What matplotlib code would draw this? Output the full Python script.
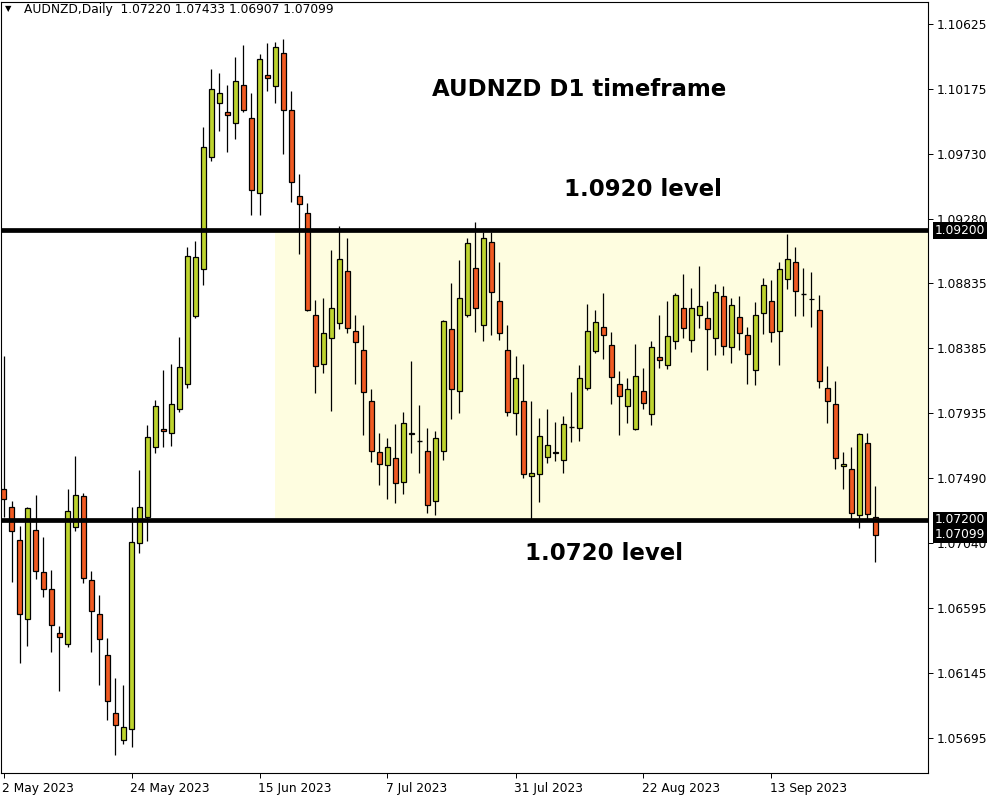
import matplotlib
matplotlib.use("Agg")
import matplotlib.pyplot as plt
import matplotlib.transforms as mtransforms
from matplotlib.patches import Rectangle

symbol = "AUDNZD"
timeframe = "Daily"

opens = [1.07412, 1.07288, 1.07059, 1.06513, 1.07129, 1.06838, 1.06721, 1.06423, 1.06347, 1.07149,
         1.07364, 1.06783, 1.06548, 1.06271, 1.05870, 1.05683, 1.05759, 1.07039, 1.07218, 1.07702,
         1.07827, 1.07799, 1.07965, 1.08142, 1.08605, 1.08930, 1.09709, 1.10078, 1.10016, 1.09940,
         1.10203, 1.09974, 1.09456, 1.10272, 1.10196, 1.10424, 1.10030, 1.09435, 1.09318, 1.08612,
         1.08280, 1.08453, 1.08557, 1.08916, 1.08508, 1.08370, 1.08024, 1.07672, 1.07582, 1.07630,
         1.07464, 1.07797, 1.07748, 1.07679, 1.07333, 1.07679, 1.08515, 1.08087, 1.08612, 1.08937,
         1.08543, 1.09117, 1.08709, 1.08370, 1.07935, 1.08018, 1.07502, 1.07516, 1.07633, 1.07668,
         1.07617, 1.07841, 1.07834, 1.08110, 1.08366, 1.08532, 1.08408, 1.08138, 1.07986, 1.07827,
         1.08090, 1.07931, 1.08325, 1.08270, 1.08435, 1.08664, 1.08442, 1.08615, 1.08591, 1.08453,
         1.08744, 1.08391, 1.08598, 1.08474, 1.08232, 1.08626, 1.08709, 1.08502, 1.08861, 1.08979,
         1.08757, 1.08727, 1.08647, 1.08114, 1.08004, 1.07575, 1.07554, 1.07236, 1.07734, 1.07220]
highs = [1.08334, 1.07329, 1.07159, 1.07292, 1.07373, 1.07082, 1.06854, 1.06467, 1.07414, 1.07643,
         1.07384, 1.06847, 1.06681, 1.06384, 1.06107, 1.06059, 1.07290, 1.07546, 1.07855, 1.08030,
         1.08237, 1.08279, 1.08461, 1.09085, 1.09126, 1.09915, 1.10316, 1.10288, 1.10205, 1.10399,
         1.10482, 1.10147, 1.10419, 1.10493, 1.10500, 1.10521, 1.10161, 1.09587, 1.09387, 1.08716,
         1.08730, 1.09062, 1.09228, 1.09145, 1.08615, 1.08545, 1.08103, 1.07799, 1.07769, 1.07865,
         1.07944, 1.08296, 1.07992, 1.07838, 1.07812, 1.08580, 1.08833, 1.08993, 1.09145, 1.09255,
         1.09191, 1.09191, 1.08979, 1.08543, 1.08329, 1.08280, 1.08023, 1.07903, 1.07965, 1.07875,
         1.07919, 1.08083, 1.08270, 1.08694, 1.08650, 1.08770, 1.08498, 1.08228, 1.08182, 1.08415,
         1.08251, 1.08435, 1.08615, 1.08712, 1.08767, 1.08899, 1.08802, 1.08956, 1.08711, 1.08827,
         1.08813, 1.08730, 1.08744, 1.08529, 1.08702, 1.08868, 1.08854, 1.08979, 1.09175, 1.09082,
         1.08937, 1.08910, 1.08751, 1.08266, 1.08156, 1.07672, 1.07706, 1.07803, 1.07803, 1.07433]
lows = [1.07223, 1.06774, 1.06213, 1.06331, 1.06790, 1.06670, 1.06290, 1.06020, 1.06324, 1.07126,
        1.06762, 1.06290, 1.06061, 1.05819, 1.05580, 1.05656, 1.05633, 1.06974, 1.07057, 1.07661,
        1.07707, 1.07714, 1.07942, 1.08112, 1.08595, 1.08822, 1.09675, 1.09882, 1.09737, 1.09827,
        1.10014, 1.09308, 1.09308, 1.10159, 1.10076, 1.09730, 1.09396, 1.09039, 1.08640, 1.08077,
        1.08216, 1.07955, 1.08515, 1.08488, 1.08140, 1.07787, 1.07600, 1.07441, 1.07344, 1.07317,
        1.07379, 1.07663, 1.07524, 1.07248, 1.07234, 1.07616, 1.07898, 1.07941, 1.08600, 1.08499,
        1.08437, 1.08479, 1.08444, 1.07921, 1.07789, 1.07492, 1.07210, 1.07327, 1.07596, 1.07610,
        1.07527, 1.07735, 1.07742, 1.08094, 1.08350, 1.08309, 1.07998, 1.07790, 1.07866, 1.07820,
        1.07963, 1.07855, 1.08246, 1.08242, 1.08382, 1.08456, 1.08357, 1.08523, 1.08237, 1.08340,
        1.08340, 1.08285, 1.08375, 1.08140, 1.08133, 1.08485, 1.08430, 1.08271, 1.08797, 1.08610,
        1.08610, 1.08534, 1.08114, 1.07872, 1.07554, 1.07416, 1.07208, 1.07146, 1.07208, 1.06907]
closes = [1.07343, 1.07122, 1.06548, 1.07281, 1.06845, 1.06721, 1.06472, 1.06389, 1.07260, 1.07371,
          1.06797, 1.06568, 1.06375, 1.05953, 1.05787, 1.05773, 1.07046, 1.07288, 1.07772, 1.07986,
          1.07813, 1.08000, 1.08256, 1.09020, 1.09013, 1.09774, 1.10175, 1.10147, 1.09995, 1.10230,
          1.10030, 1.09477, 1.10382, 1.10251, 1.10465, 1.10030, 1.09532, 1.09380, 1.08647, 1.08266,
          1.08488, 1.08661, 1.08999, 1.08522, 1.08426, 1.08080, 1.07679, 1.07589, 1.07706, 1.07457,
          1.07872, 1.07791, 1.07748, 1.07305, 1.07769, 1.08571, 1.08107, 1.08730, 1.09110, 1.08661,
          1.09145, 1.08771, 1.08488, 1.07948, 1.08177, 1.07520, 1.07523, 1.07779, 1.07716, 1.07664,
          1.07862, 1.07841, 1.08180, 1.08505, 1.08567, 1.08477, 1.08187, 1.08055, 1.08104, 1.08193,
          1.08007, 1.08394, 1.08304, 1.08470, 1.08754, 1.08525, 1.08664, 1.08678, 1.08515, 1.08771,
          1.08398, 1.08681, 1.08488, 1.08349, 1.08612, 1.08820, 1.08495, 1.08930, 1.08999, 1.08778,
          1.08757, 1.08723, 1.08156, 1.08024, 1.07630, 1.07589, 1.07250, 1.07796, 1.07243, 1.07099]

date_tick_bars = [0, 16, 32, 48, 64, 80, 96]
date_tick_labels = ["2 May 2023", "24 May 2023", "15 Jun 2023", "7 Jul 2023",
                    "31 Jul 2023", "22 Aug 2023", "13 Sep 2023"]
price_ticks = [1.10625, 1.10175, 1.09730, 1.09280, 1.08835, 1.08385,
               1.07935, 1.07490, 1.07040, 1.06595, 1.06145, 1.05695]
upper_level = 1.0920
lower_level = 1.0720
zone_start_bar = 33.9
title_text = "AUDNZD D1 timeframe"
upper_text = "1.0920 level"
lower_text = "1.0720 level"

BULL = "#BED42E"
BEAR = "#F05A22"
ZONE = "#FEFDE0"
FS = 8.8

W, H = 1000, 800
fig = plt.figure(figsize=(10, 8), dpi=100)
fig.patch.set_facecolor("white")
pl, pr, pt, pb = 1, 928, 2, 773
ax = fig.add_axes([pl / W, 1 - pb / H, (pr - pl) / W, (pb - pt) / H])

ax.set_xlim(-0.3125, 115.5625)
ax.set_ylim(1.05453, 1.10776)

# zone
x_right = ax.get_xlim()[1]
ax.add_patch(Rectangle((zone_start_bar, lower_level), x_right - zone_start_bar,
                       upper_level - lower_level, facecolor=ZONE, edgecolor="none", zorder=0))

bw = 0.56
for i, (o, h, l, c) in enumerate(zip(opens, highs, lows, closes)):
    ax.vlines(i, l, h, color="black", lw=0.9, zorder=2)
    if abs(c - o) < 0.00003:
        ax.hlines(o, i - bw / 2, i + bw / 2, color="black", lw=1.0, zorder=3)
    else:
        col = BULL if c > o else BEAR
        ax.add_patch(Rectangle((i - bw / 2, min(o, c)), bw, abs(c - o),
                               facecolor=col, edgecolor="black", lw=0.9, zorder=3))

ax.axhline(upper_level, color="black", lw=3.4, zorder=4)
ax.axhline(lower_level, color="black", lw=3.4, zorder=4)

# axes styling
for s in ax.spines.values():
    s.set_color("black")
    s.set_linewidth(0.8)
ax.yaxis.tick_right()
ax.set_yticks(price_ticks)
ax.set_yticklabels([f"{v:.5f}" for v in price_ticks])
ax.tick_params(axis="y", direction="out", length=3.5, width=0.7, labelsize=FS, pad=3,
               colors="black")
ax.set_xticks(date_tick_bars)
ax.set_xticklabels(date_tick_labels)
ax.tick_params(axis="x", direction="out", length=3.5, width=0.7, labelsize=FS, pad=3,
               colors="black")
for lab in ax.get_xticklabels():
    lab.set_horizontalalignment("left")
    lab.set_transform(lab.get_transform() + mtransforms.ScaledTranslation(-1 / 72, 0, fig.dpi_scale_trans))

# price boxes on the right axis (they cover nearby tick labels, as in the reference)
trans = mtransforms.blended_transform_factory(ax.transAxes, ax.transData)
for val in [upper_level, lower_level, closes[-1]]:
    ax.annotate(f"{val:.5f}", xy=(1.0, val), xycoords=trans, xytext=(5, 0),
                textcoords="offset points", ha="left", va="center", fontsize=FS,
                color="white", annotation_clip=False, zorder=10,
                bbox=dict(boxstyle="square,pad=0.15", fc="black", ec="none"))

# header
fig.text(5 / W, 1 - 9 / H, "\u25bc", fontsize=6, va="center", ha="left", color="black")
fig.text(24 / W, 1 - 9 / H,
         f"{symbol},{timeframe}  {opens[-1]:.5f} {highs[-1]:.5f} {lows[-1]:.5f} {closes[-1]:.5f}",
         fontsize=FS, va="center", ha="left", color="black")

# annotations
fig.text(579 / W, 1 - 90 / H, title_text, fontsize=16.5, fontweight="bold",
         ha="center", va="center", color="black")
fig.text(643 / W, 1 - 189 / H, upper_text, fontsize=16.5, fontweight="bold",
         ha="center", va="center", color="black")
fig.text(604 / W, 1 - 553 / H, lower_text, fontsize=16.5, fontweight="bold",
         ha="center", va="center", color="black")

fig.savefig("out.png", dpi=100)
